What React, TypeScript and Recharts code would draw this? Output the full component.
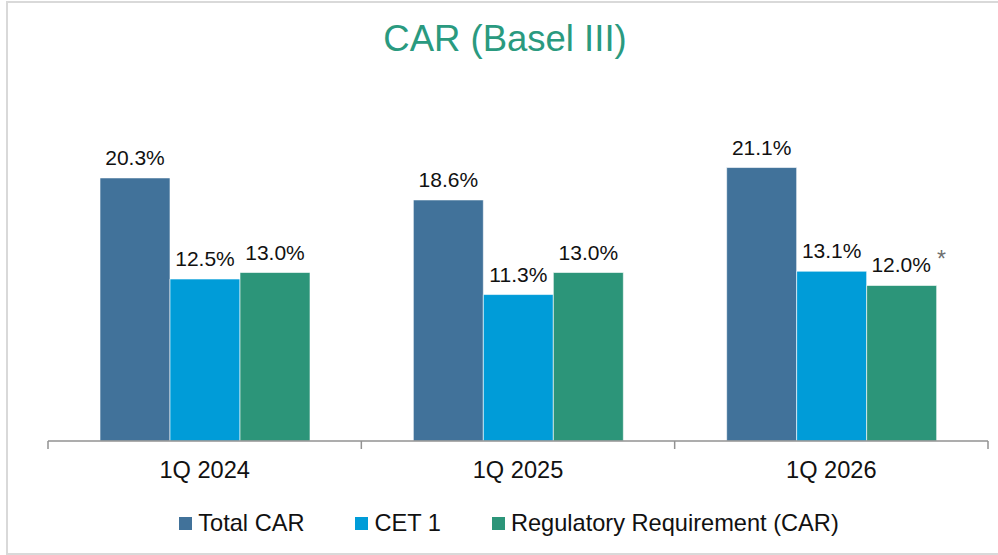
import React from 'react';
import { BarChart, Bar, XAxis, YAxis, LabelList, Legend } from 'recharts';

const quarters = ['1Q 2024', '1Q 2025', '1Q 2026'];
const totalCar = [20.3, 18.6, 21.1];
const cet1 = [12.5, 11.3, 13.1];
const regRequirement = [13.0, 13.0, 12.0];
const regNotes = ['', '', '*'];

const series = [
  { key: 'total', name: 'Total CAR', color: '#41729A' },
  { key: 'cet1', name: 'CET 1', color: '#009CD8' },
  { key: 'reg', name: 'Regulatory Requirement (CAR)', color: '#2C9579' },
];

const data = quarters.map((q, i) => ({
  quarter: q,
  total: totalCar[i],
  cet1: cet1[i],
  reg: regRequirement[i],
  note: regNotes[i],
}));

const FONT = '"Liberation Sans", Arial, sans-serif';
const AXIS_GRAY = '#929292';

function ValueLabel(props: any) {
  const { x, y, width, value, index, withNote } = props;
  const note = withNote ? data[index]?.note : '';
  const cx = Number(x) + Number(width) / 2 + (note ? 7 : 0);
  return (
    <text x={cx} y={Number(y) - 13} textAnchor="middle" fontFamily={FONT} fontSize={21} fill="#111">
      {`${Number(value).toFixed(1)}%`}
      {note ? (
        <tspan dx={6} dy={-5} fontSize={23} fill="#6f6f6f">{note}</tspan>
      ) : null}
    </text>
  );
}

// category label plus the tick marks on the band edges
function QuarterTick(props: any) {
  const { x, y, payload, index, visibleTicksCount } = props;
  const half = Number(payload?.offset) || 0;
  const isLast = index === visibleTicksCount - 1;
  return (
    <g>
      <line x1={x - half} x2={x - half} y1={y} y2={y + 8} stroke={AXIS_GRAY} strokeWidth={1.5} />
      {isLast ? <line x1={x + half} x2={x + half} y1={y} y2={y + 8} stroke={AXIS_GRAY} strokeWidth={1.5} /> : null}
      <text x={x} y={y + 37} textAnchor="middle" fontFamily={FONT} fontSize={23.6} fill="#111">
        {payload.value}
      </text>
    </g>
  );
}

function LegendContent() {
  return (
    <div style={{ display: 'flex', justifyContent: 'center', alignItems: 'center', height: 36, fontFamily: FONT, fontSize: 23.6, color: '#111' }}>
      {series.map((s, i) => (
        <div key={s.key} style={{ display: 'flex', alignItems: 'center', marginLeft: i === 0 ? 0 : 51 }}>
          <span style={{ width: 13, height: 13, background: s.color, display: 'inline-block', marginRight: 6 }} />
          <span>{s.name}</span>
        </div>
      ))}
    </div>
  );
}

export default function App() {
  return (
    <div style={{ position: 'absolute', left: 0, top: 0, width: 998, height: 555, background: '#fff', overflow: 'hidden' }}>
      <div style={{ position: 'absolute', left: 6, top: 1, width: 1010, height: 550, border: '2px solid #D9D9D9' }} />
      <div style={{ position: 'absolute', left: 0, top: 21, width: 1010, textAlign: 'center', fontFamily: FONT, fontSize: 36.5, lineHeight: '36px', color: '#2A9A7F' }}>
        CAR (Basel III)
      </div>
      <div style={{ position: 'absolute', left: 0, top: 0 }}>
        <BarChart
          width={998}
          height={555}
          data={data}
          margin={{ top: 117, right: 10, left: 48, bottom: 18 }}
          barSize={70}
          barGap={0}
        >
          <XAxis
            dataKey="quarter"
            height={60}
            axisLine={{ stroke: AXIS_GRAY, strokeWidth: 1.5 }}
            tickLine={false}
            tickSize={0}
            tickMargin={0}
            interval={0}
            tick={<QuarterTick />}
          />
          <YAxis hide domain={[0, 25]} />
          <Legend
            verticalAlign="bottom"
            content={<LegendContent />}
            wrapperStyle={{ position: 'absolute', top: 505, left: 20, width: 978, height: 36 }}
          />
          {series.map((s) => (
            <Bar
              key={s.key}
              dataKey={s.key}
              name={s.name}
              fill={s.color}
              stroke="#ffffff"
              strokeOpacity={0.6}
              strokeWidth={1}
              isAnimationActive={false}
            >
              <LabelList dataKey={s.key} content={<ValueLabel withNote={s.key === 'reg'} />} />
            </Bar>
          ))}
        </BarChart>
      </div>
    </div>
  );
}
